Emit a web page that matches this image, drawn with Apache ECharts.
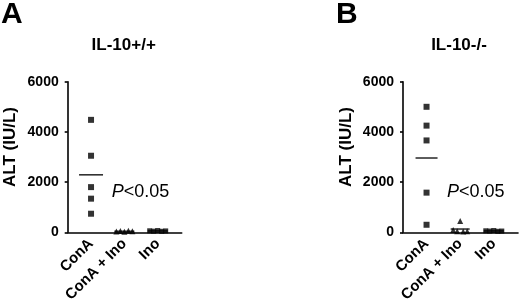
<!DOCTYPE html>
<html>
<head>
<meta charset="utf-8">
<script src="https://cdn.jsdelivr.net/npm/echarts@6/dist/echarts.min.js"></script>
<style>
html,body{margin:0;padding:0;background:#fff;}
#c{width:520px;height:308px;}
</style>
</head>
<body>
<div id="c"></div>
<script>
// ---- data ----
var categories = ['ConA', 'ConA + Ino', 'Ino'];
var yTicks = [0, 2000, 4000, 6000];
var panelLetters = ['A', 'B'];
var panelTitles = ['IL-10+/+', 'IL-10-/-'];
var pText = 'P<0.05';

var A_conA = [4480, 3050, 1800, 1340, 740];
var A_conAIno = [30, 50, 20, 60, 40];
var A_ino = [60, 45, 70, 40, 55];
var A_means = [2290, 40, 55];

var B_conA = [5000, 4250, 3660, 1580, 300];
var B_conAIno = [450, 90, 40, 30, 40];
var B_ino = [60, 50, 70, 40, 50];
var B_means = [2960, 130, 55];

// ---- style ----
var FONT = '"Liberation Sans", Arial, Helvetica, sans-serif';
var jitterCluster = [-8, -4, 0, 4, 8];
var jitterB2 = [0, -7, -3, 3, 7];
var noJitter = [0, 0, 0, 0, 0];

var grids = [
  {left: 67.7, top: 81.7, width: 114, height: 150.6},
  {left: 403, top: 81.7, width: 115, height: 150.6}
];

function pts(vals, catIdx, jitter, symbol, size, axisIdx) {
  return {
    type: 'scatter', xAxisIndex: axisIdx, yAxisIndex: axisIdx,
    symbol: symbol, symbolSize: size,
    itemStyle: {color: '#000'},
    silent: true, animation: false,
    data: vals.map(function (v, i) {
      return {value: [catIdx, v], symbolOffset: [jitter[i], 0]};
    })
  };
}
function means(vals, axisIdx, widths) {
  return {
    type: 'scatter', xAxisIndex: axisIdx, yAxisIndex: axisIdx,
    symbol: 'rect', itemStyle: {color: '#000'}, silent: true, animation: false, z: 3,
    data: vals.map(function (v, i) { return {value: [i, v], symbolSize: [widths[i], 1.6]}; })
  };
}

function xAxis(i) {
  return {
    gridIndex: i, type: 'value', min: -0.7, max: 2.72,
    axisLine: {show: true, onZero: false, lineStyle: {color: '#000', width: 1.6}},
    axisTick: {show: false},
    splitLine: {show: false},
    axisLabel: {
      customValues: [0, 1, 2], rotate: 45, margin: 9,
      color: '#000', fontFamily: FONT, fontWeight: 'bold', fontSize: 15,
      formatter: function (v) { return categories[Math.round(v)]; }
    }
  };
}
function yAxis(i) {
  return {
    gridIndex: i, type: 'value', min: yTicks[0], max: yTicks[yTicks.length - 1], interval: 2000,
    axisLine: {show: true, onZero: false, lineStyle: {color: '#000', width: 1.6}},
    axisTick: {show: true, length: 3, lineStyle: {color: '#000', width: 1.6}},
    splitLine: {show: false},
    axisLabel: {margin: 9, color: '#000', fontFamily: FONT, fontWeight: 'bold', fontSize: 14,
      formatter: function (v) { return String(v); }}
  };
}

var titles = [];
var graphics = [];
[0, 1].forEach(function (i) {
  var g = grids[i];
  var letterX = i === 0 ? 1 : 336;
  titles.push({text: panelLetters[i], left: letterX, top: 0, padding: 0,
    textStyle: {fontFamily: FONT, fontWeight: 'bold', fontSize: 30, color: '#000'}});
  titles.push({text: panelTitles[i], left: g.left + 56, top: 37, padding: 0, textAlign: 'center',
    textStyle: {fontFamily: FONT, fontWeight: 'bold', fontSize: 17, color: '#000'}});
  graphics.push({type: 'text', x: g.left - 57, y: 147, rotation: Math.PI / 2,
    style: {text: 'ALT (IU/L)', fontFamily: FONT, fontWeight: 'bold', fontSize: 17, fill: '#000',
      align: 'center', verticalAlign: 'middle'}});
  graphics.push({type: 'text', x: g.left + 44, y: 192,
    style: {text: '{i|P}' + pText.slice(1), fontFamily: FONT, fontSize: 18, fill: '#000',
      verticalAlign: 'middle', rich: {i: {fontStyle: 'italic', fontFamily: FONT, fontSize: 18, fill: '#000'}}}});
});

var series = [
  pts(A_conA, 0, noJitter, 'rect', 6, 0),
  pts(A_conAIno, 1, jitterCluster, 'triangle', 6, 0),
  pts(A_ino, 2, jitterCluster, 'rect', 5, 0),
  means(A_means, 0, [24, 20, 20]),
  pts(B_conA, 0, noJitter, 'rect', 6, 1),
  pts(B_conAIno, 1, jitterB2, 'triangle', 6, 1),
  pts(B_ino, 2, jitterCluster, 'rect', 5, 1),
  means(B_means, 1, [22, 19, 20])
];

var chart = echarts.init(document.getElementById('c'), null, {renderer: 'canvas'});
chart.setOption({
  animation: false,
  backgroundColor: '#fff',
  title: titles,
  grid: grids,
  xAxis: [xAxis(0), xAxis(1)],
  yAxis: [yAxis(0), yAxis(1)],
  graphic: graphics,
  series: series
});
</script>
</body>
</html>
